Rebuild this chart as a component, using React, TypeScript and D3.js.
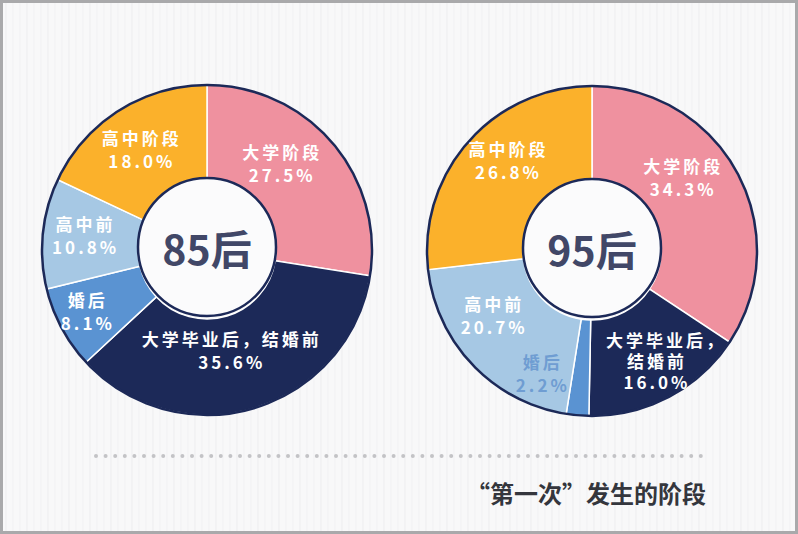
import * as d3 from "d3";

// ---- data ----
const stages = ["大学阶段", "大学毕业后，结婚前", "婚后", "高中前", "高中阶段"];
const values85 = [27.5, 35.6, 8.1, 10.8, 18.0];
const values95 = [34.3, 16.0, 2.2, 20.7, 26.8];
const cohorts = ["85后", "95后"];
const title = "“第一次”发生的阶段";

// ---- layout / style ----
const W = 798;
const H = 534;
const colors = ["#EF919F", "#1C2958", "#5A93D2", "#A6C8E4", "#FBB12B"];
const charts = [
  {
    cx: 207,
    cy: 250,
    values: values85,
    wrap: false,
    nudge: [[-13, -12], [-9, -11], [-17, 6], [-6, -3], [-3, -3]],
    smallLabelColor: "#fff",
  },
  {
    cx: 592,
    cy: 251,
    values: values95,
    wrap: true,
    nudge: [[-11, -19], [11, 7], [-39, 6], [-14, -16], [3, -14]],
    smallLabelColor: "#6F9DD2",
  },
];
const outerR = 165;
const innerR = 69;
const labelR = 116;
const font = "'Noto Sans CJK SC', 'Noto Sans', sans-serif";

const pie = d3
  .pie<number>()
  .sort(null)
  .value((d) => d);
const arc = d3.arc<d3.PieArcDatum<number>>().innerRadius(innerR).outerRadius(outerR);
const labelArc = d3.arc<d3.PieArcDatum<number>>().innerRadius(labelR).outerRadius(labelR);

function Donut({ chart, name }: { chart: (typeof charts)[number]; name: string }) {
  const arcs = pie(chart.values);
  return (
    <g transform={`translate(${chart.cx},${chart.cy})`}>
      {arcs.map((a, i) => (
        <path key={i} d={arc(a) ?? ""} fill={colors[i]} stroke="#fff" strokeWidth={1.5} />
      ))}
      <circle r={outerR} fill="none" stroke="#1C2958" strokeWidth={2.5} />
      {arcs.map((a, i) => {
        const [x, y] = labelArc.centroid(a);
        const [dx, dy] = chart.nudge[i];
        const pct = `${d3.format(".1f")(chart.values[i])}%`;
        let lines = [stages[i], pct];
        if (chart.wrap && stages[i].includes("，")) {
          const [a1, a2] = stages[i].split("，");
          lines = [a1 + "，", a2, pct];
        }
        const lh = lines.length > 2 ? 21 : 23;
        const fill = a.value < 5 ? chart.smallLabelColor : "#fff";
        return (
          <text
            key={i}
            y={y + dy - ((lines.length - 1) * lh) / 2}
            textAnchor="middle"
            fill={fill}
            fontSize={17}
            fontWeight={700}
            letterSpacing={3}
            fontFamily={font}
          >
            {lines.map((l, j) => (
              <tspan key={j} x={x + dx + (l.endsWith("，") ? 9 : 0)} dy={j === 0 ? 0 : lh} dominantBaseline="central">
                {l}
              </tspan>
            ))}
          </text>
        );
      })}
      <circle cy={-3} r={innerR} fill="#FBFBFC" stroke="#1C2958" strokeWidth={2.5} />
      <text
        y={-3}
        textAnchor="middle"
        dominantBaseline="central"
        fill="#414767"
        fontSize={41}
        fontWeight={700}
        fontFamily={font}
      >
        {name}
      </text>
    </g>
  );
}

export default function App() {
  const stripes = d3.range(6, W, 7);
  const dots = d3.range(96, 704, 9.6);
  return (
    <div style={{ position: "fixed", left: 0, top: 0 }}>
      <svg width={W} height={H} viewBox={`0 0 ${W} ${H}`} style={{ display: "block" }}>
        <rect x={0} y={0} width={W} height={H} fill="#F8F8F9" />
        {stripes.map((x, i) => (
          <line key={i} x1={x} x2={x} y1={0} y2={H} stroke="#EDEDEF" strokeWidth={1} opacity={i % 3 === 0 ? 0.9 : 0.5} />
        ))}
        <rect x={1.5} y={1.5} width={W - 3} height={H - 3} fill="none" stroke="#A9A9AB" strokeWidth={3} />
        {charts.map((c, i) => (
          <Donut key={i} chart={c} name={cohorts[i]} />
        ))}
        {dots.map((x, i) => (
          <circle key={i} cx={x} cy={456} r={2} fill="#C3C3C6" />
        ))}
        <text x={706} y={503} textAnchor="end" fill="#34363D" fontSize={24} fontWeight={700} fontFamily={font}>
          {title}
        </text>
      </svg>
    </div>
  );
}
